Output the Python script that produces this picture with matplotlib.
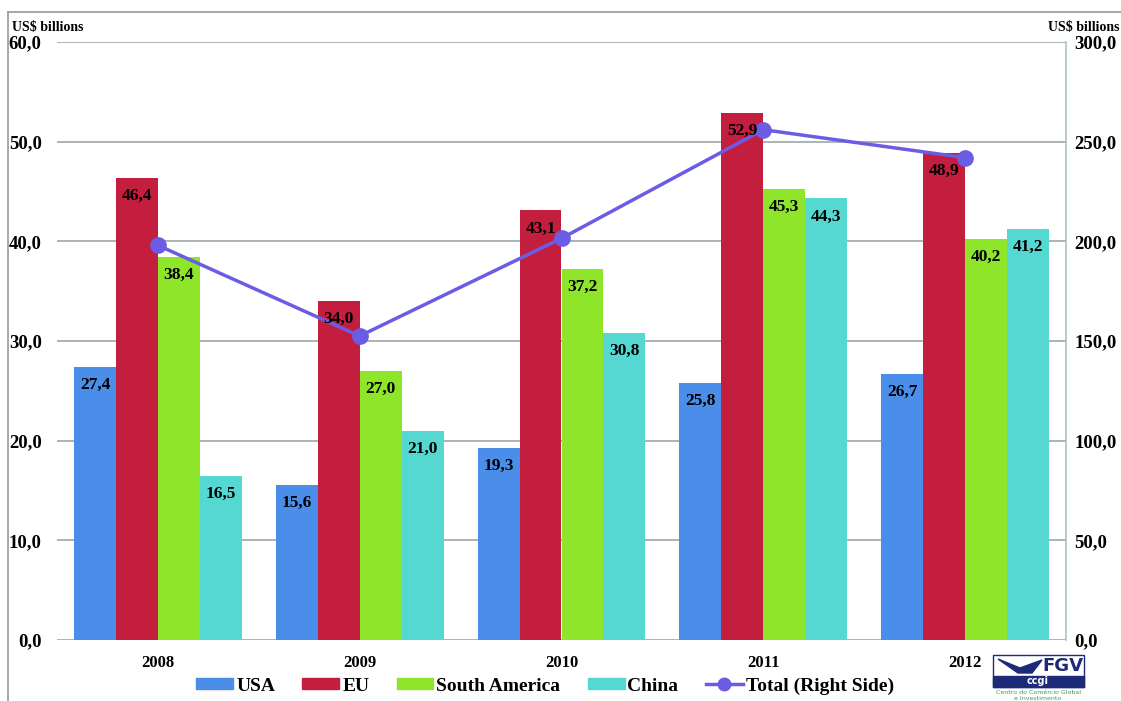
import numpy as np
import matplotlib
matplotlib.use("Agg")
import matplotlib.pyplot as plt
from matplotlib.patches import Rectangle, Polygon
from matplotlib.lines import Line2D

# Values in US$ billions
years = ["2008", "2009", "2010", "2011", "2012"]
usa = [27.4, 15.6, 19.3, 25.8, 26.7]
eu = [46.4, 34.0, 43.1, 52.9, 48.9]
south_america = [38.4, 27.0, 37.2, 45.3, 40.2]
china = [16.5, 21.0, 30.8, 44.3, 41.2]
total = [198.0, 152.5, 201.5, 256.0, 242.0]

series = [("USA", usa, "#4a8eea"),
          ("EU", eu, "#c41e3f"),
          ("South America", south_america, "#8ee52a"),
          ("China", china, "#56d8d2")]
line_color = "#6b5ce6"

W, H = 1121, 701
plt.rcParams["font.family"] = ["Liberation Serif", "DejaVu Serif"]
plt.rcParams["font.weight"] = "bold"

fig = plt.figure(figsize=(W / 100, H / 100), dpi=100)
ax = fig.add_axes([57 / W, 1 - 640 / H, (1066 - 57) / W, (640 - 42) / H])

x = np.arange(len(years))
bw = 0.208
offsets = [-1.5, -0.5, 0.5, 1.5]

for (name, vals, col), off in zip(series, offsets):
    ax.bar(x + off * bw, vals, bw, color=col, zorder=2, label=name)

ax.set_xlim(-0.5, 4.5)
ax.set_ylim(0, 60)
ax.set_yticks(np.arange(0, 61, 10))
ax.set_yticklabels([f"{v:.1f}".replace(".", ",") for v in np.arange(0, 61, 10)])
ax.set_xticks(x)
ax.set_xticklabels(years, fontsize=12)
ax.tick_params(axis="x", length=0, pad=11)
ax.tick_params(axis="y", length=0, pad=11, labelsize=13.5)
ax.grid(axis="y", color="#aab4b4", lw=1.4, zorder=0)
for s in ["left", "top", "right", "bottom"]:
    ax.spines[s].set_visible(False)

ax2 = ax.twinx()
ax2.set_ylim(0, 300)
ax2.set_yticks(np.arange(0, 301, 50))
ax2.set_yticklabels([f"{v:.1f}".replace(".", ",") for v in np.arange(0, 301, 50)])
ax2.tick_params(axis="y", length=0, pad=6, labelsize=13.5)
for s in ["left", "top", "bottom"]:
    ax2.spines[s].set_visible(False)
ax2.spines["right"].set_color("#a9c2c2")
ax2.spines["right"].set_linewidth(1.2)
ax2.plot(x, total, "-o", color=line_color, lw=2.5, ms=11, zorder=3,
         label="Total (Right Side)")

# value labels just inside the top of each bar
for (name, vals, col), off in zip(series, offsets):
    for xi, v in zip(x, vals):
        ax2.annotate(f"{v:.1f}".replace(".", ","), xy=(xi + off * bw, v),
                     xycoords=ax.transData, xytext=(0, -18),
                     textcoords="offset pixels", ha="center", va="center",
                     fontsize=12.5, fontweight="bold", zorder=5)

# axis unit captions
fig.text(12 / W, 1 - 28 / H, "US$ billions", fontsize=10, va="center", ha="left")
fig.text(1119 / W, 1 - 28 / H, "US$ billions", fontsize=10, va="center", ha="right")

# legend
handles = [Rectangle((0, 0), 1, 1, color=c) for _, _, c in series]
handles.append(Line2D([], [], color=line_color, lw=2.5, marker="o", ms=9))
labels = [n for n, _, _ in series] + ["Total (Right Side)"]
fig.legend(handles, labels, loc="center", bbox_to_anchor=(545 / W, 1 - 686 / H),
           ncol=5, frameon=False, fontsize=14, handlelength=1.9, handleheight=0.5,
           handletextpad=0.15, columnspacing=1.4)

# outer frame (left and top edges)
fig.add_artist(Line2D([8 / W, 8 / W], [0, 1 - 12 / H], color="#9a9a9a", lw=1.2))
fig.add_artist(Line2D([8 / W, 1], [1 - 12 / H, 1 - 12 / H], color="#9a9a9a", lw=1.2))

# FGV logo in the lower right corner
navy = "#1c2a78"
fig.add_artist(Rectangle((993 / W, 1 - 687 / H), 91 / W, 32 / H, transform=fig.transFigure,
                         facecolor="white", edgecolor=navy, lw=1))
fig.add_artist(Rectangle((993 / W, 1 - 687 / H), 91 / W, 11 / H, transform=fig.transFigure,
                         facecolor=navy, edgecolor=navy, lw=1))
swoosh = np.array([[998, 659], [1020, 668], [1042, 660], [1032, 673], [1018, 673]])
fig.add_artist(Polygon(np.column_stack([swoosh[:, 0] / W, 1 - swoosh[:, 1] / H]),
                       closed=True, transform=fig.transFigure, color=navy))
fig.text(1063 / W, 1 - 666 / H, "FGV", fontsize=13, color=navy, ha="center", va="center",
         family="DejaVu Sans", fontweight="bold")
fig.text(1038 / W, 1 - 681.5 / H, "ccgi", fontsize=7, color="white", ha="center",
         va="center", family="DejaVu Sans")
fig.text(1038 / W, 1 - 692 / H, "Centro do Comércio Global", fontsize=4.5, color="#3a9a5a",
         ha="center", va="center", family="DejaVu Sans", fontweight="normal")
fig.text(1038 / W, 1 - 699 / H, "e Investimento", fontsize=4.5, color="#3a9a5a",
         ha="center", va="center", family="DejaVu Sans", fontweight="normal")

fig.savefig("out.png", dpi=100)
